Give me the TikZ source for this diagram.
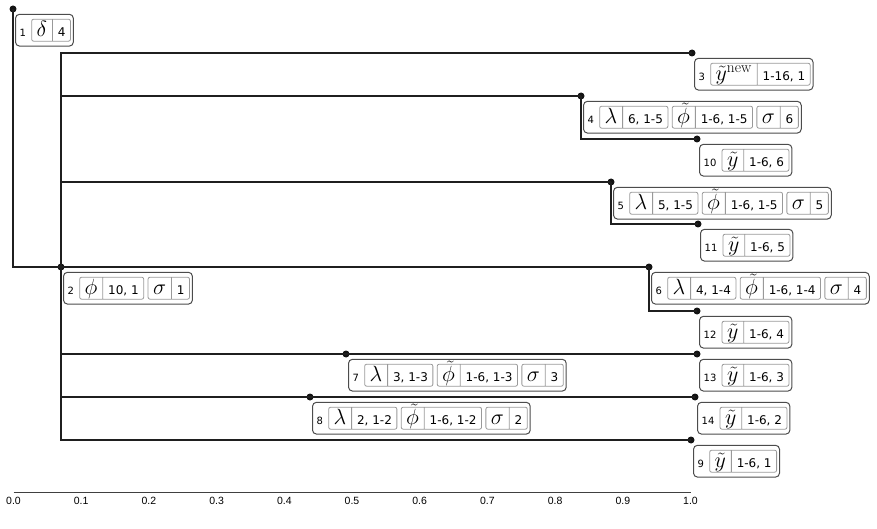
\RequirePackage{fix-cm}
\documentclass[tikz,border=0pt]{standalone}
\usepackage{fontspec}
\newfontfamily\valfont{DejaVu Sans}
\newfontfamily\tickfont{Liberation Sans}
\usetikzlibrary{positioning,shapes.multipart,fit,calc}
\newcommand{\cstrut}{\rule[-5pt]{0pt}{22pt}}
\newcommand{\tcell}[2]{\fontsize{22}{24}\selectfont\smash{$#1$}\cstrut\nodepart{two}\valfont\fontsize{12}{14}\selectfont #2\cstrut}
\begin{document}
\begin{tikzpicture}[x=1pt,y=-1pt,
    dot/.style={circle,fill=black!92,inner sep=0pt,minimum size=7pt},
    edge/.style={draw=black!88,line width=2pt},
    num/.style={anchor=north west,inner xsep=1.5pt,inner ysep=0pt,text height=17pt,text depth=5pt,font=\valfont\fontsize{10}{12}\selectfont},
    cell/.style={draw=black!40,line width=0.8pt,rounded corners=2pt,rectangle split,rectangle split horizontal,rectangle split parts=2,inner xsep=5pt,inner ysep=0pt},
    lbox/.style={draw=black!70,line width=1pt,rounded corners=4pt,inner xsep=2.5pt,inner ysep=4.5pt},
    tick/.style={font=\tickfont\fontsize{10.5}{12}\selectfont,text=black,inner sep=0pt}]
    \useasboundingbox (0,0) rectangle (877,529);
    % точки дерева
    \node[dot] (d1) at (13,9) {};
    \node[dot] (d2) at (61,267) {};
    \node[dot] (d3) at (692,53) {};
    \node[dot] (d4) at (581,96) {};
    \node[dot] (d5) at (611,182) {};
    \node[dot] (d6) at (649,267) {};
    \node[dot] (d7) at (346,354) {};
    \node[dot] (d8) at (310,397) {};
    \node[dot] (d9) at (691,440) {};
    \node[dot] (d10) at (697,139) {};
    \node[dot] (d11) at (698,224) {};
    \node[dot] (d12) at (697,311) {};
    \node[dot] (d13) at (697,354) {};
    \node[dot] (d14) at (695,397) {};
    \foreach \p/\c in {1/2,2/3,2/4,4/10,2/5,5/11,2/6,6/12,2/7,7/13,2/8,8/14,2/9} % ветви
        \draw[edge] (d\p.center) |- (d\c.center);
    % подписи узлов
    \node[num] (n1) at ($(d1)+(5,10)$) {1};
    \node[cell,right=3.5pt of n1] (n1a) {\tcell{\delta}{4}};
    \node[lbox,fit=(n1)(n1a)] (l1) {};
    \node[num] (n2) at ($(d2)+(5,10)$) {2};
    \node[cell,right=3.5pt of n2] (n2a) {\tcell{\phi}{10, 1}};
    \node[cell,right=3.5pt of n2a] (n2b) {\tcell{\sigma}{1}};
    \node[lbox,fit=(n2)(n2b)] (l2) {};
    \node[num] (n3) at ($(d3)+(5,10)$) {3};
    \node[cell,right=3.5pt of n3] (n3a) {\tcell{\tilde{y}^{\mathrm{new}}}{1-16, 1}};
    \node[lbox,fit=(n3)(n3a)] (l3) {};
    \node[num] (n4) at ($(d4)+(5,10)$) {4};
    \node[cell,right=3.5pt of n4] (n4a) {\tcell{\lambda}{6, 1-5}};
    \node[cell,right=3.5pt of n4a] (n4b) {\tcell{\tilde{\phi}}{1-6, 1-5}};
    \node[cell,right=3.5pt of n4b] (n4c) {\tcell{\sigma}{6}};
    \node[lbox,fit=(n4)(n4c)] (l4) {};
    \node[num] (n5) at ($(d5)+(5,10)$) {5};
    \node[cell,right=3.5pt of n5] (n5a) {\tcell{\lambda}{5, 1-5}};
    \node[cell,right=3.5pt of n5a] (n5b) {\tcell{\tilde{\phi}}{1-6, 1-5}};
    \node[cell,right=3.5pt of n5b] (n5c) {\tcell{\sigma}{5}};
    \node[lbox,fit=(n5)(n5c)] (l5) {};
    \node[num] (n6) at ($(d6)+(5,10)$) {6};
    \node[cell,right=3.5pt of n6] (n6a) {\tcell{\lambda}{4, 1-4}};
    \node[cell,right=3.5pt of n6a] (n6b) {\tcell{\tilde{\phi}}{1-6, 1-4}};
    \node[cell,right=3.5pt of n6b] (n6c) {\tcell{\sigma}{4}};
    \node[lbox,fit=(n6)(n6c)] (l6) {};
    \node[num] (n7) at ($(d7)+(5,10)$) {7};
    \node[cell,right=3.5pt of n7] (n7a) {\tcell{\lambda}{3, 1-3}};
    \node[cell,right=3.5pt of n7a] (n7b) {\tcell{\tilde{\phi}}{1-6, 1-3}};
    \node[cell,right=3.5pt of n7b] (n7c) {\tcell{\sigma}{3}};
    \node[lbox,fit=(n7)(n7c)] (l7) {};
    \node[num] (n8) at ($(d8)+(5,10)$) {8};
    \node[cell,right=3.5pt of n8] (n8a) {\tcell{\lambda}{2, 1-2}};
    \node[cell,right=3.5pt of n8a] (n8b) {\tcell{\tilde{\phi}}{1-6, 1-2}};
    \node[cell,right=3.5pt of n8b] (n8c) {\tcell{\sigma}{2}};
    \node[lbox,fit=(n8)(n8c)] (l8) {};
    \foreach \k/\v in {9/1,10/6,11/5,12/4,13/3,14/2} { % листья
        \node[num] (n\k) at ($(d\k)+(5,10)$) {\k};
        \node[cell,right=3.5pt of n\k] (n\k a) {\tcell{\tilde{y}}{1-6, \v}};
        \node[lbox,fit=(n\k)(n\k a)] (l\k) {};
    }
    % ось
    \draw[black!75,line width=1pt] (13.5,492.5) -- (690.5,492.5);
    \foreach \t [count=\i from 0] in {0.0,0.1,0.2,0.3,0.4,0.5,0.6,0.7,0.8,0.9,1.0}
        \node[tick] (t\i) at (13.5+67.7*\i,501) {\t};
\end{tikzpicture}
\end{document}
